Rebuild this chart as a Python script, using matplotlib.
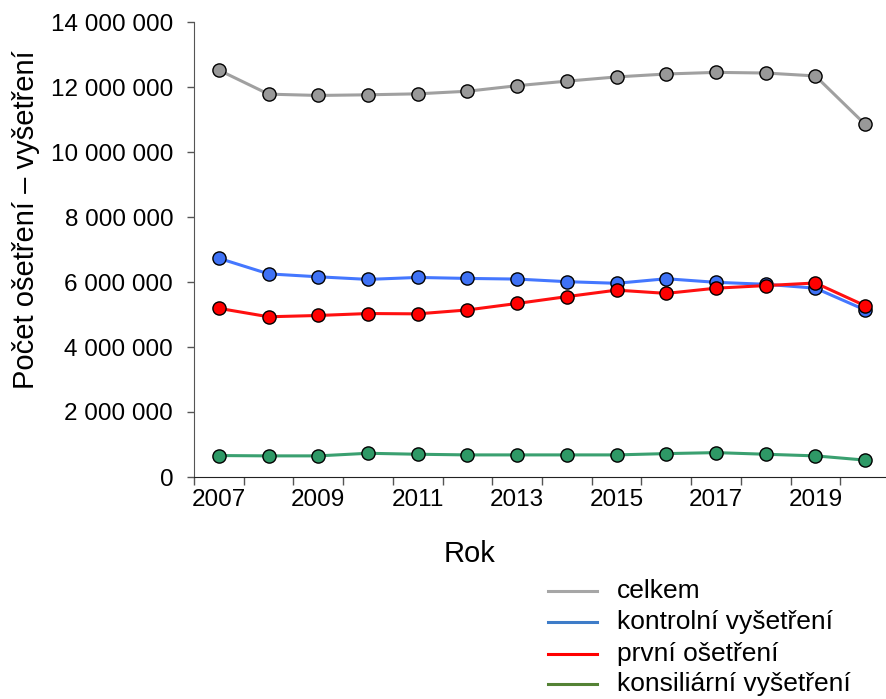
import matplotlib.pyplot as plt
import matplotlib.ticker as mticker
from matplotlib.lines import Line2D
import numpy as np

plt.rcParams['font.family'] = ['Liberation Sans', 'DejaVu Sans']

years = [2007, 2008, 2009, 2010, 2011, 2012, 2013, 2014, 2015, 2016, 2017, 2018, 2019, 2020]
celkem = [12.52, 11.78, 11.74, 11.76, 11.79, 11.87, 12.04, 12.18, 12.31, 12.40, 12.45, 12.43, 12.34, 10.85]
kontrolni = [6.73, 6.25, 6.16, 6.08, 6.14, 6.11, 6.09, 6.01, 5.96, 6.10, 5.99, 5.93, 5.81, 5.14]
prvni = [5.19, 4.93, 4.97, 5.03, 5.02, 5.14, 5.34, 5.55, 5.75, 5.65, 5.81, 5.89, 5.97, 5.27]
konsiliarni = [0.66, 0.65, 0.65, 0.73, 0.70, 0.68, 0.68, 0.68, 0.68, 0.72, 0.75, 0.70, 0.65, 0.52]

labels = ['celkem', 'kontrolní vyšetření', 'první ošetření', 'konsiliární vyšetření']

W, H = 886, 699
fig = plt.figure(figsize=(W / 100, H / 100), dpi=100)
ax = fig.add_axes([194 / W, 1 - 477 / H, 696 / W, 455 / H])

x = np.arange(len(years))
# (values, line colour, marker colour)
series = [
    (celkem, '#a0a0a0', '#999999'),
    (kontrolni, '#4477ff', '#3f72f5'),
    (prvni, '#ff1010', '#ff0000'),
    (konsiliarni, '#3aa070', '#2e9966'),
]
for vals, lc, mc in series:
    ax.plot(x, np.array(vals) * 1e6, color=lc, lw=2.2, marker='o', ms=9.5,
            mfc=mc, mec='black', mew=1, clip_on=False)

ax.set_xlim(-0.5, len(years) - 0.5)
ax.set_ylim(0, 14e6)
ax.set_yticks(np.arange(0, 14.1e6, 2e6))
ax.yaxis.set_major_formatter(mticker.FuncFormatter(lambda v, p: f'{int(v):,}'.replace(',', ' ')))

ax.set_xticks(x[::2])
ax.set_xticklabels([str(y) for y in years[::2]])
ax.set_xticks(np.arange(-0.5, len(years), 1), minor=True)
ax.tick_params(axis='x', which='major', length=0, pad=9, labelsize=17.5)
ax.tick_params(axis='x', which='minor', length=6, width=1, color='#555555')
ax.tick_params(axis='y', length=5, width=1, color='#555555', labelsize=17.5, pad=10)

for s in ['top', 'right']:
    ax.spines[s].set_visible(False)
ax.spines['left'].set_color('#555555')
ax.spines['bottom'].set_color('#222222')

fig.text(26 / W, 1 - 220 / H, 'Počet ošetření – vyšetření', rotation=90,
         ha='center', va='center', fontsize=21)
fig.text(469 / W, 1 - 554 / H, 'Rok', ha='center', va='center', fontsize=21)

# legend drawn by hand: lines only, no markers
legend_colors = ['#a6a6a6', '#3e7cc8', '#ff0000', '#548235']
row_y = [591, 622, 654, 684]
for lab, c, yy in zip(labels, legend_colors, row_y):
    fig.add_artist(Line2D([548 / W, 597 / W], [1 - yy / H, 1 - yy / H], color=c, lw=2.2))
    fig.text(617 / W, 1 - yy / H, lab, ha='left', va='center', fontsize=19)

fig.savefig('out.png', dpi=100)
